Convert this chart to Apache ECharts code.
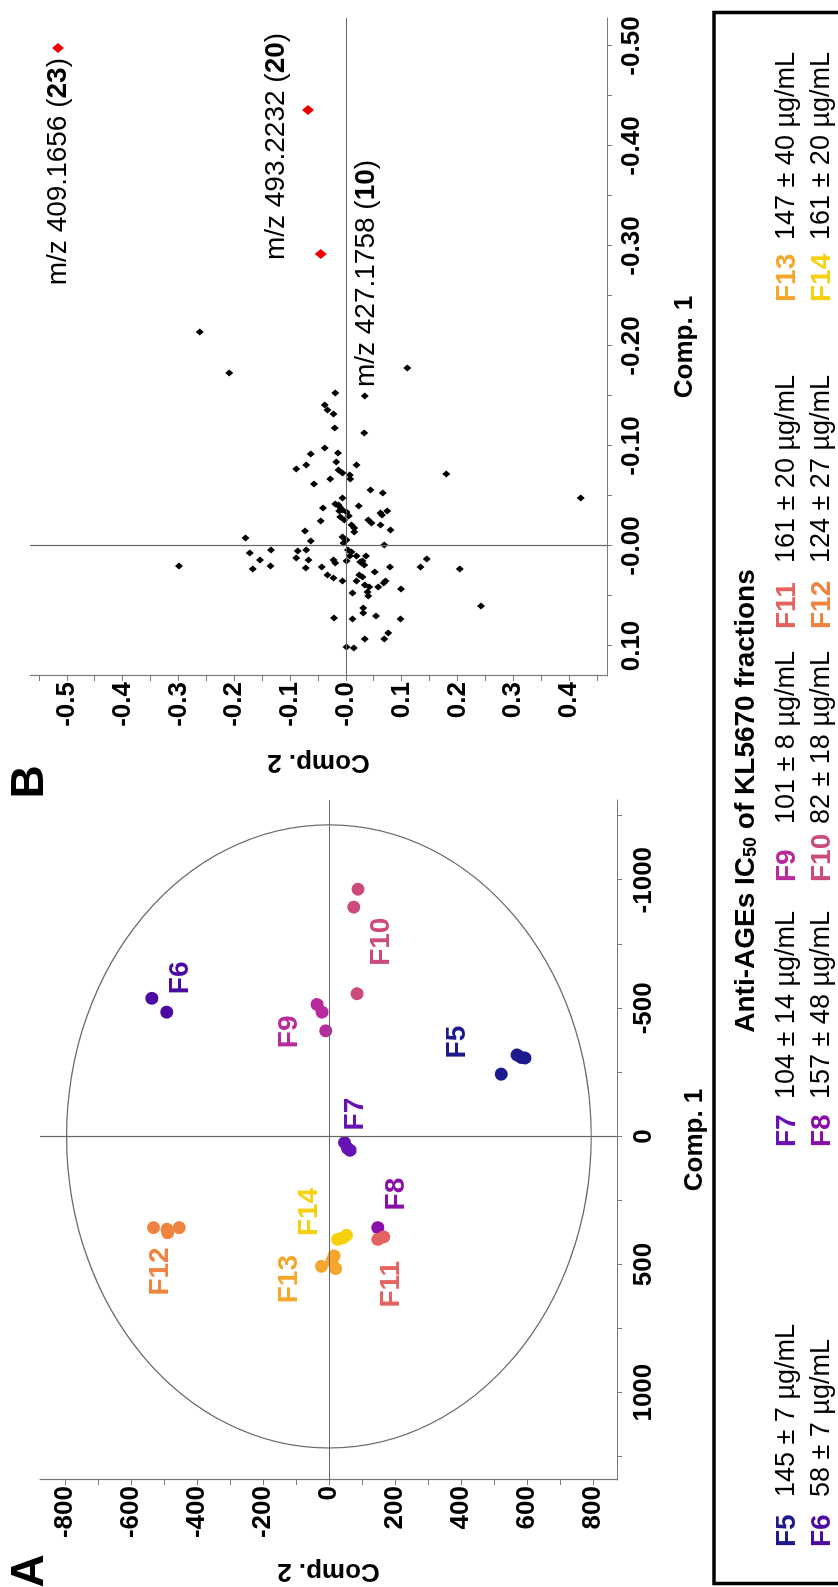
<!DOCTYPE html>
<html><head><meta charset="utf-8">
<script src="https://cdn.jsdelivr.net/npm/echarts@6.0.0/dist/echarts.min.js"></script>
<style>
html,body{margin:0;padding:0;width:838px;height:1587px;overflow:hidden;background:#fff;}
#chart{position:absolute;left:0;top:0;width:1587px;height:838px;transform-origin:0 0;transform:translate(0,1587px) rotate(-90deg);}
</style></head><body><div id="chart"></div>
<script>
// ---------- Panel A: PCA scores [Comp.1, Comp.2] ----------
const fractions = ['F5','F6','F7','F8','F9','F10','F11','F12','F13','F14'];
const scoresF5  = [[-243,522],[-318,570],[-308,583],[-306,594]];
const scoresF6  = [[-539,-537],[-485,-492]];
const scoresF7  = [[24,47],[46,56],[54,64]];
const scoresF8  = [[356,148]];
const scoresF9  = [[-515,-36],[-485,-21],[-412,-10]];
const scoresF10 = [[-965,88],[-895,75],[-557,85]];
const scoresF11 = [[402,148],[392,166]];
const scoresF12 = [[356,-532],[362,-491],[356,-454],[376,-489]];
const scoresF13 = [[507,-23],[486,9],[516,20],[466,15]];
const scoresF14 = [[402,26],[386,53],[396,42]];
const labelAtA  = [[-368,389],[-619,-450],[-87,80],[225,204],[-408,-120],[-760,160],[577,188],[527,-510],[557,-120],[295,-61]];
const ellipseA  = [1216, 795];   // T2 ellipse semi-axes (Comp.1, Comp.2)
const tickA1  = [-1250,-1000,-750,-500,-250,0,250,500,750,1000,1250];
const labelA1 = [-1000,-500,0,500,1000];
const tickA2  = [-800,-700,-600,-500,-400,-300,-200,-100,0,100,200,300,400,500,600,700,800];
const labelA2 = [-800,-600,-400,-200,0,200,400,600,800];

// ---------- Panel B: loadings [Comp.1, Comp.2] ----------
const loadingsBlack = [
[-0.214,-0.262],[-0.173,-0.209],[-0.178,0.110],[-0.150,0.034],[-0.153,-0.019],
[-0.141,-0.038],[-0.136,-0.033],[-0.132,-0.022],[-0.113,0.033],[-0.118,-0.020],
[-0.092,-0.063],[-0.098,-0.038],[-0.093,-0.014],[-0.077,-0.089],[-0.081,-0.071],
[-0.084,-0.017],[-0.081,0.019],[-0.076,-0.013],[-0.073,-0.006],[-0.071,0.007],
[-0.067,0.008],[-0.072,0.180],[-0.067,-0.028],[-0.062,-0.057],[-0.056,0.044],
[-0.053,0.066],[-0.048,-0.006],[-0.048,0.421],[-0.042,-0.019],[-0.041,-0.013],
[-0.039,-0.011],[-0.038,-0.041],[-0.040,0.023],[-0.035,0.074],[-0.033,0.062],
[-0.031,0.065],[-0.035,-0.012],[-0.036,-0.006],[-0.034,0.001],[-0.030,0.005],
[-0.026,-0.003],[-0.029,-0.010],[-0.025,-0.045],[-0.026,0.040],[-0.023,0.046],
[-0.021,0.062],[-0.021,0.010],[-0.008,-0.180],[-0.015,-0.073],[-0.018,0.015],
[-0.009,-0.006],[-0.006,0.001],[-0.003,-0.004],[-0.005,-0.063],[-0.014,0.015],
[-0.016,0.080],[-0.001,0.069],[0.005,-0.086],[0.007,-0.172],[0.004,-0.134],
[0.004,-0.071],[0.004,0.004],[0.006,0.010],[0.010,0.019],[0.012,-0.089],
[0.014,-0.154],[0.020,-0.135],[0.014,-0.022],[0.014,-0.067],[0.010,0.007],
[0.020,-0.299],[0.023,-0.167],[0.022,-0.072],[0.021,-0.043],[0.017,-0.019],
[0.010,0.036],[0.015,0.001],[0.016,0.026],[0.015,0.030],[0.021,0.079],
[0.021,0.134],[0.013,0.145],[0.023,0.204],[0.019,0.033],[0.026,0.052],
[0.029,-0.033],[0.032,-0.022],[0.029,0.024],[0.031,0.030],[0.035,-0.006],
[0.035,0.019],[0.039,0.034],[0.035,0.071],[0.037,0.068],[0.041,0.042],
[0.041,0.058],[0.043,0.099],[0.047,0.012],[0.046,0.039],[0.050,0.040],
[0.060,0.242],[0.062,0.031],[0.067,0.031],[0.072,-0.021],[0.073,0.012],
[0.070,0.054],[0.073,0.098],[0.093,0.034],[0.087,0.076],[0.093,0.069],
[0.101,0.001],[0.102,0.014]
];
const loadingsRed = [[-0.498,-0.516],[-0.436,-0.068],[-0.292,-0.045]];
const redMz  = ['409.1656','493.2232','427.1758'];
const redId  = ['23','20','10'];
const annotAt = [null,[-0.3995,-0.124],[-0.2725,0.036]];
const tickB1  = [-0.5,-0.45,-0.4,-0.35,-0.3,-0.25,-0.2,-0.15,-0.1,-0.05,0,0.05,0.1];
const labelB1 = [-0.5,-0.4,-0.3,-0.2,-0.1,0,0.1];
const tickB2  = [-0.55,-0.5,-0.45,-0.4,-0.35,-0.3,-0.25,-0.2,-0.15,-0.1,-0.05,0,0.05,0.1,0.15,0.2,0.25,0.3,0.35,0.4,0.45];
const labelB2 = [-0.5,-0.4,-0.3,-0.2,-0.1,0,0.1,0.2,0.3,0.4];

// ---------- IC50 table ----------
const ic50Mean = [145,58,104,157,101,82,161,124,147,161];
const ic50Sd   = [7,7,14,48,8,18,20,27,40,20];

// ---------- styles ----------
const colors = ['#1d1a8e','#4c0aa3','#6612b4','#8a0fa8','#b92a9c','#cc4a7c','#e4625f','#ef8440','#f6a62c','#f6d00a'];
const FF = '"Liberation Sans", Arial, sans-serif';
const AX = '#7a7a7a';

const scoreSets = [scoresF5,scoresF6,scoresF7,scoresF8,scoresF9,scoresF10,scoresF11,scoresF12,scoresF13,scoresF14];

function axisDef(grid, min, max, ticks, labels, fmt, name, gap, margin){
  return {type:'value', gridIndex:grid, min, max, inverse:true, name, nameLocation:'middle', nameGap:gap,
    nameTextStyle:{fontFamily:FF, fontWeight:'bold', fontSize:26, color:'#000'},
    axisLine:{show:true, onZero:false, lineStyle:{color:AX, width:1.2}},
    axisTick:{show:true, length:5, customValues:ticks, lineStyle:{color:AX}},
    axisLabel:{show:true, customValues:labels, formatter:fmt, margin, fontFamily:FF, fontWeight:'bold', fontSize:26, color:'#000'},
    splitLine:{show:false}};
}
const zeroLines = {silent:true, symbol:'none', animation:false, label:{show:false},
  lineStyle:{color:'#666', width:1.2, type:'solid', opacity:1}, data:[{xAxis:0},{yAxis:0}]};
const richAnn = {n:{fontFamily:FF, fontSize:28, color:'#000', textBorderWidth:0},
                 b:{fontFamily:FF, fontSize:28, fontWeight:'bold', color:'#000', textBorderWidth:0}};

const series = [];
scoreSets.forEach((pts,i)=>{
  series.push({type:'scatter', xAxisIndex:0, yAxisIndex:0, data:pts, symbol:'circle', symbolSize:13,
    itemStyle:{color:colors[i], opacity:1}, z:4, markLine: i===0 ? zeroLines : undefined});
});
series.push({type:'scatter', xAxisIndex:0, yAxisIndex:0, symbolSize:0, z:5, itemStyle:{opacity:1},
  data: labelAtA.map((p,i)=>({value:p, name:fractions[i], label:{color:colors[i]}})),
  label:{show:true, position:'inside', formatter:p=>p.name, fontFamily:FF, fontWeight:'bold', fontSize:28,
    textBorderWidth:0, opacity:1}});
series.push({type:'custom', xAxisIndex:0, yAxisIndex:0, data:[[0,0]], z:2, silent:true,
  renderItem:function(params, api){
    const c = api.coord([0,0]);
    const s = api.size([ellipseA[0], ellipseA[1]]);
    return {type:'ellipse', shape:{cx:c[0], cy:c[1], rx:Math.abs(s[0]), ry:Math.abs(s[1])},
      style:{fill:'none', stroke:'#6a6a6a', lineWidth:1.2}};
  }});
// Panel B
series.push({type:'scatter', xAxisIndex:1, yAxisIndex:1, data:loadingsBlack, symbol:'diamond', symbolSize:[7,8],
  itemStyle:{color:'#000', opacity:1}, z:4, markLine:zeroLines});
series.push({type:'scatter', xAxisIndex:1, yAxisIndex:1, symbol:'diamond', symbolSize:[10,12], z:5,
  itemStyle:{color:'#ee0000', opacity:1},
  data: loadingsRed.map((p,i)=>({value:p, label: i===0 ? {show:true, position:'left', distance:5} : {show:false}})),
  label:{formatter:p=>'{n|m/z '+redMz[p.dataIndex]+' (}{b|'+redId[p.dataIndex]+'}{n|)}', rich:richAnn, textBorderWidth:0}});
series.push({type:'scatter', xAxisIndex:1, yAxisIndex:1, symbolSize:0, z:5, itemStyle:{opacity:1},
  data: annotAt.map((p,i)=>p ? {value:p, idx:i} : null).filter(Boolean),
  label:{show:true, position:'inside', textBorderWidth:0,
    formatter:p=>{const i=p.data.idx; return '{n|m/z '+redMz[i]+' (}{b|'+redId[i]+'}{n|)}';},
    rich:richAnn}});

// IC50 table graphic
const colLabelU = [40, 440, 705, 958, 1285];
const colValueU = [90, 488, 763, 1024, 1347];
const rowV = [787, 822];
const graphics = [
  {type:'text', x:16, y:30, style:{text:'A', font:'bold 46px '+FF, fill:'#000', align:'center', verticalAlign:'middle', textAlign:'center', textVerticalAlign:'middle'}},
  {type:'text', x:805, y:30, style:{text:'B', font:'bold 46px '+FF, fill:'#000', align:'center', verticalAlign:'middle', textAlign:'center', textVerticalAlign:'middle'}},
  {type:'rect', shape:{x:3.5, y:714, width:1571, height:200}, style:{fill:'none', stroke:'#000', lineWidth:3.5}},
  {type:'text', x:786, y:744, style:{text:'{t|Anti-AGEs IC}{s|50}{t| of KL5670 fractions}', align:'center', verticalAlign:'middle', textAlign:'center', textVerticalAlign:'middle',
    rich:{t:{font:'bold 28px '+FF, fill:'#000', lineHeight:32, verticalAlign:'bottom'}, s:{font:'bold 18px '+FF, fill:'#000', lineHeight:26, verticalAlign:'bottom'}}}}
];
fractions.forEach((f,i)=>{
  const col = Math.floor(i/2), row = i%2;
  graphics.push({type:'text', x:colLabelU[col], y:rowV[row],
    style:{text:f, font:'bold 28px '+FF, fill:colors[i], align:'left', verticalAlign:'middle', textAlign:'left', textVerticalAlign:'middle'}});
  graphics.push({type:'text', x:colValueU[col], y:rowV[row],
    style:{text:ic50Mean[i]+' \u00b1 '+ic50Sd[i]+' \u00b5g/mL', font:'27px '+FF, fill:'#000', align:'left', verticalAlign:'middle', textAlign:'left', textVerticalAlign:'middle'}});
});

const chart = echarts.init(document.getElementById('chart'), null, {renderer:'canvas', width:1587, height:838});
chart.setOption({
  animation:false,
  backgroundColor:'#fff',
  grid:[{left:107, top:40, width:680, height:577}, {left:911, top:30, width:658, height:577}],
  xAxis:[
    axisDef(0,-1313,1341,tickA1,labelA1,v=>String(v),'Comp. 1',65,14),
    axisDef(1,-0.528,0.13,tickB1,labelB1,v=>(Math.abs(v)<1e-9?'-0.00':v.toFixed(2)),'Comp. 1',65,12)
  ],
  yAxis:[
    axisDef(0,-876,873,tickA2,labelA2,v=>String(v),'Comp. 2',78,6),
    axisDef(1,-0.566,0.468,tickB2,labelB2,v=>(Math.abs(v)<1e-9?'-0.0':v.toFixed(1)),'Comp. 2',73,6)
  ],
  series,
  graphic:{elements:graphics}
});
</script></body></html>
